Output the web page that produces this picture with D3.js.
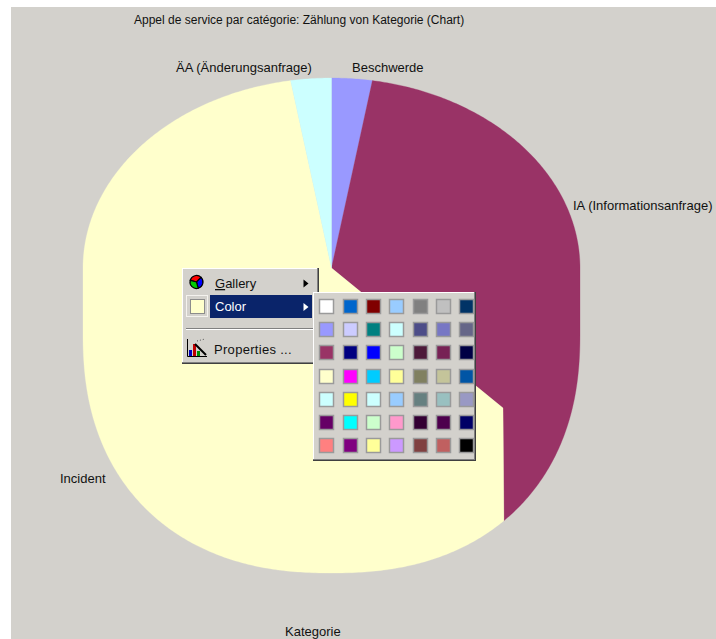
<!DOCTYPE html>
<html>
<head>
<meta charset="utf-8">
<script src="https://cdn.jsdelivr.net/npm/d3@7"></script>
<style>
  html, body { margin: 0; padding: 0; background: #fff; }
  svg { display: block; }
  text { font-family: "Liberation Sans", Arial, sans-serif; font-size: 13px; fill: #111; }
</style>
</head>
<body>
<div id="my_dataviz"></div>
<script>
// chart values
const categories = ["Beschwerde", "IA (Informationsanfrage)", "Incident", "ÄA (Änderungsanfrage)"];
const counts = [3, 41, 67, 3];
const sliceColors = ["#9999FF", "#993366", "#FFFFCC", "#CCFFFF"];
const chartTitle = "Appel de service par catégorie: Zählung von Kategorie (Chart)";
const axisTitle = "Kategorie";

// colour picker of the popup menu, row by row
const paletteColors = [
  "#FFFFFF", "#0066CC", "#800000", "#99CCFF", "#808080", "#C0C0C0", "#003366",
  "#9999FF", "#CCCCFF", "#008080", "#CCFFFF", "#4D4D88", "#7777C4", "#666688",
  "#993366", "#000080", "#0000FF", "#CCFFCC", "#4D1A3A", "#772255", "#000044",
  "#FFFFCC", "#FF00FF", "#00CCFF", "#FFFF99", "#808060", "#C4C49A", "#0055A5",
  "#CCFFFF", "#FFFF00", "#CCFFFF", "#99CCFF", "#668080", "#99C0C0", "#9999C4",
  "#660066", "#00FFFF", "#CCFFCC", "#FF99CC", "#330033", "#4D004D", "#000066",
  "#FF8080", "#800080", "#FFFF99", "#CC99FF", "#804040", "#C06060", "#000000"
];

const width = 716, height = 639;
const face = "#D3D1CC";

const svg = d3.select("#my_dataviz")
  .append("svg")
    .attr("width", width)
    .attr("height", height);

svg.append("rect")
  .attr("x", 11).attr("y", 7)
  .attr("width", width - 11).attr("height", height - 7)
  .attr("fill", face);

// The pie in the screenshot is not round: squashed above the apex, stretched and
// boxy below it. Outline is two half ellipses with a straight band in between.
const cx = 331.5, apexY = 268, lowerY = 333, rx = 248.5, upperRy = 190, lowerRy = 240, lowerPow = 0.87;

function outlinePoint(a) {
  const s = Math.sin(a), c = Math.cos(a);
  if (c >= 0) return [cx + rx * s, apexY - upperRy * c];
  const sx = Math.sign(s) * Math.pow(Math.abs(s), lowerPow);
  return [cx + rx * sx, lowerY + lowerRy * Math.pow(-c, lowerPow)];
}

// edge of the IA slice where the chart was only half repainted
const repaintElbow = [503, 408];

const pie = d3.pie().sort(null).value(d => d);
const arcs = pie(counts);
const line = d3.line();

function slicePoints(d, i) {
  const steps = Math.ceil((d.endAngle - d.startAngle) / 0.01);
  const pts = d3.range(steps + 1).map(k =>
    outlinePoint(d.startAngle + (d.endAngle - d.startAngle) * k / steps));
  if (categories[i].startsWith("IA")) return [[cx, apexY], ...pts, repaintElbow];
  if (categories[i] === "Incident") return [[cx, apexY], repaintElbow, ...pts];
  return [[cx, apexY], ...pts];
}

svg.append("g")
  .selectAll("path")
  .data(arcs)
  .join("path")
    .attr("d", (d, i) => line(slicePoints(d, i)) + "Z")
    .attr("fill", (d, i) => sliceColors[i])
    .attr("stroke", (d, i) => sliceColors[i])
    .attr("stroke-width", 0.3);

// labels
const labelPos = [[352, 72], [573, 210], [60, 483], [176, 72]];
svg.append("g")
  .selectAll("text")
  .data(categories)
  .join("text")
    .attr("x", (d, i) => labelPos[i][0])
    .attr("y", (d, i) => labelPos[i][1])
    .text(d => d);

svg.append("text").attr("x", 134).attr("y", 24).style("font-size", "12px").text(chartTitle);
svg.append("text").attr("x", 285).attr("y", 636).text(axisTitle);

// a raised win2k style panel
function panel(g, x, y, w, h) {
  g.append("rect").attr("x", x).attr("y", y).attr("width", w).attr("height", h).attr("fill", "#404040");
  g.append("rect").attr("x", x).attr("y", y).attr("width", w - 1).attr("height", h - 1).attr("fill", "#808080");
  g.append("rect").attr("x", x).attr("y", y).attr("width", w - 2).attr("height", h - 2).attr("fill", "#FFFFFF");
  g.append("rect").attr("x", x + 1).attr("y", y + 1).attr("width", w - 3).attr("height", h - 3).attr("fill", face);
}

const menu = svg.append("g");
panel(menu, 182, 268, 137, 96);

// pie icon of "Gallery"
const iconArc = d3.arc().innerRadius(0).outerRadius(6.5);
const icon = menu.append("g").attr("transform", "translate(196.5,282)");
icon.selectAll("path")
  .data(d3.pie().sort(null).startAngle(-Math.PI / 2.4).endAngle(2 * Math.PI - Math.PI / 2.4)([1, 1, 1]))
  .join("path")
    .attr("d", iconArc)
    .attr("fill", (d, i) => ["#FF0000", "#0000FF", "#00CC00"][i])
    .attr("stroke", "#000")
    .attr("stroke-width", 1.2);

const gallery = menu.append("text").attr("x", 215).attr("y", 288);
gallery.append("tspan").attr("text-decoration", "underline").text("G");
gallery.append("tspan").text("allery");

menu.append("path").attr("d", "M303.5,279.5l5,4l-5,4Z").attr("fill", "#000");

// highlighted "Color" row with its current colour
menu.append("rect").attr("x", 210).attr("y", 295).attr("width", 102).attr("height", 23).attr("fill", "#0A246A");
menu.append("text").attr("x", 215).attr("y", 311).style("fill", "#fff").text("Color");
menu.append("path").attr("d", "M303.5,303l5,4l-5,4Z").attr("fill", "#fff");
menu.append("rect").attr("x", 186.5).attr("y", 295.5).attr("width", 21).attr("height", 21)
  .attr("fill", face).attr("stroke", "#F4F2EE");
menu.append("rect").attr("x", 190.5).attr("y", 299.5).attr("width", 14).attr("height", 14)
  .attr("fill", "#FFFFCC").attr("stroke", "#8C8C8C");

// separator
menu.append("line").attr("x1", 186).attr("x2", 316).attr("y1", 328.5).attr("y2", 328.5).attr("stroke", "#808080");
menu.append("line").attr("x1", 186).attr("x2", 316).attr("y1", 329.5).attr("y2", 329.5).attr("stroke", "#FFFFFF");

// chart wizard icon of "Properties"
const wand = menu.append("g");
wand.append("path").attr("d", "M187.5,339V356.5H207").attr("fill", "none").attr("stroke", "#000");
wand.append("rect").attr("x", 189).attr("y", 350).attr("width", 3).attr("height", 6).attr("fill", "#0000C0");
wand.append("rect").attr("x", 193).attr("y", 344).attr("width", 3).attr("height", 12).attr("fill", "#C00000");
wand.append("rect").attr("x", 197).attr("y", 351).attr("width", 3).attr("height", 5).attr("fill", "#009000");
wand.append("line").attr("x1", 195).attr("y1", 344).attr("x2", 206).attr("y2", 355).attr("stroke", "#000").attr("stroke-width", 2);
wand.append("line").attr("x1", 197).attr("y1", 341).attr("x2", 205).attr("y2", 339).attr("stroke", "#555").attr("stroke-dasharray", "1,2");

menu.append("text").attr("x", 214).attr("y", 354).style("letter-spacing", "0.3px").text("Properties ...");

// colour submenu
const sub = svg.append("g");
panel(sub, 313, 292, 163, 169);

const paletteX = d3.scaleBand().domain(d3.range(7)).range([314.7, 478]);
const paletteY = d3.scaleBand().domain(d3.range(7)).range([294, 457]);

sub.append("g")
  .selectAll("rect")
  .data(paletteColors)
  .join("rect")
    .attr("x", (d, i) => Math.round(paletteX(i % 7) + paletteX.bandwidth() / 2 - 7) + 0.5)
    .attr("y", (d, i) => Math.round(paletteY(Math.floor(i / 7)) + paletteY.bandwidth() / 2 - 7) + 0.5)
    .attr("width", 14)
    .attr("height", 14)
    .attr("fill", d => d)
    .attr("stroke", "#9A9A9A")
    .attr("stroke-width", 1.5);
</script>
</body>
</html>
